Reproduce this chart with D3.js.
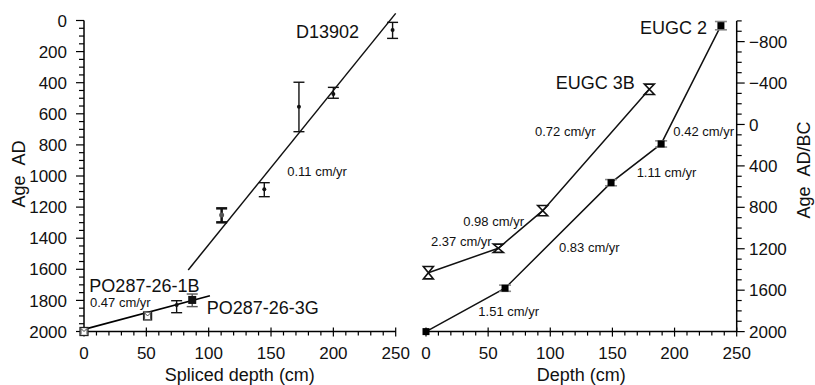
<!DOCTYPE html>
<html><head><meta charset="utf-8">
<script src="https://cdn.jsdelivr.net/npm/d3@7"></script>
<style>body{margin:0;background:#fff}svg{display:block}text{font-family:"Liberation Sans",Arial,sans-serif;fill:#111}</style>
</head><body><svg id="c" width="815" height="385"></svg>
<script>
// ---------- LEFT PANEL DATA ----------
const d139Depth = [110.4, 144.6, 172.4, 200, 247.5];
const d139Age   = [1251, 1086, 554, 473, 61];
const d139Lo    = [1208, 1043, 397, 430, 12];
const d139Hi    = [1298, 1133, 715, 500, 115];
const d139FitDepth = [83.6, 250];
const d139FitAge   = [1604, -46];
const poFitDepth = [0, 101];
const poFitAge   = [1986, 1770];
const poOpenDepth = [0, 51];
const poOpenAge   = [2000, 1900];
const po1bDepth = [74.3], po1bAge = [1830], po1bLo = [1802], po1bHi = [1879];
const po3gDepth = [86.8], po3gAge = [1797], po3gLo = [1759], po3gHi = [1840];
const leftYTicks = [0,200,400,600,800,1000,1200,1400,1600,1800,2000];
const xTicks = [0,50,100,150,200,250];
const leftLabels = [
  {t:"D13902", d:170, a:112, big:true},
  {t:"0.11 cm/yr", d:163, a:1000},
  {t:"PO287-26-1B", d:4.3, a:1743, big:true},
  {t:"0.47 cm/yr", d:4.8, a:1842},
  {t:"PO287-26-3G", d:98.4, a:1887, big:true}
];
// ---------- RIGHT PANEL DATA ----------
const eugc2Depth = [0, 63.6, 148.9, 189.2, 237.3];
const eugc2Age   = [2000, 1581, 562, 188, -954];
const eugc2Err   = [0, 30, 30, 30, 40];
const eugc3bDepth = [1.9, 58.2, 93.9, 179.7];
const eugc3bAge   = [1431, 1195, 832, -340];
const eugc3bErr   = [60, 40, 50, 50];
const rightYTicks = [-800,-400,0,400,800,1200,1600,2000];
const rightLabels = [
  {t:"EUGC 2", d:172.2, a:-869, big:true},
  {t:"EUGC 3B", d:104.4, a:-338, big:true},
  {t:"0.72 cm/yr", d:87.7, a:111},
  {t:"0.42 cm/yr", d:199, a:111},
  {t:"1.11 cm/yr", d:169.5, a:512},
  {t:"0.98 cm/yr", d:30, a:980},
  {t:"2.37 cm/yr", d:4, a:1178},
  {t:"0.83 cm/yr", d:107, a:1236},
  {t:"1.51 cm/yr", d:42.1, a:1849}
];

const svg = d3.select("#c");
const xL = d3.scaleLinear().domain([0,250]).range([84,395.7]);
const yL = d3.scaleLinear().domain([0,2000]).range([20.5,331.5]);
const xR = d3.scaleLinear().domain([0,250]).range([426,736.7]);
const yR = d3.scaleLinear().domain([-1000,2000]).range([20.9,331.6]);
const line = (xs, ys, X, Y) => d3.line()(xs.map((d,i)=>[X(d), Y(ys[i])]));

function xAxis(X, y0){
  const g = svg.append("g");
  g.append("line").attr("x1",X.range()[0]).attr("x2",X.range()[1]).attr("y1",y0).attr("y2",y0).attr("stroke","#000").attr("stroke-width",1.5);
  d3.range(0,251,10).forEach(v=>{
    const major = v%50===0;
    g.append("line").attr("x1",X(v)).attr("x2",X(v)).attr("y1",major?y0-4:y0).attr("y2",y0+(major?5:4)).attr("stroke","#000").attr("stroke-width",1.2);
  });
  g.selectAll("text").data(xTicks).join("text").attr("x",d=>X(d)).attr("y",y0+27)
    .attr("text-anchor","middle").attr("font-size",17).text(d=>d);
}
// Left y axis
(function(){
  const g = svg.append("g");
  g.append("line").attr("x1",84).attr("x2",84).attr("y1",yL(0)).attr("y2",yL(2000)).attr("stroke","#000").attr("stroke-width",1.5);
  d3.range(0,2001,50).forEach(v=>{
    const major = v%200===0;
    g.append("line").attr("x1",84-(major?8:5)).attr("x2",84).attr("y1",yL(v)).attr("y2",yL(v)).attr("stroke","#000").attr("stroke-width",1.2);
  });
  g.selectAll("text").data(leftYTicks).join("text").attr("x",67).attr("y",d=>yL(d)).attr("dy","0.36em")
    .attr("text-anchor","end").attr("font-size",17).text(d=>d);
})();
// Right y axis
(function(){
  const g = svg.append("g");
  const x0 = 736.7;
  g.append("line").attr("x1",x0).attr("x2",x0).attr("y1",yR(-1000)).attr("y2",yR(2000)).attr("stroke","#000").attr("stroke-width",1.5);
  d3.range(-1000,2001,100).forEach(v=>{
    const major = (v+800)%400===0 && v>=-800;
    g.append("line").attr("x1",x0).attr("x2",x0+(major?8:5)).attr("y1",yR(v)).attr("y2",yR(v)).attr("stroke","#000").attr("stroke-width",1.2);
  });
  g.selectAll("text").data(rightYTicks).join("text").attr("x",749).attr("y",d=>yR(d)).attr("dy","0.36em")
    .attr("text-anchor","start").attr("font-size",17).text(d=>d<0?"\u2212"+Math.abs(d):d);
})();
xAxis(xL, 331.5);
xAxis(xR, 331.6);

// axis titles
svg.append("text").attr("x",(84+395.7)/2).attr("y",381).attr("text-anchor","middle").attr("font-size",18).text("Spliced depth (cm)");
svg.append("text").attr("x",(426+736.7)/2).attr("y",381).attr("text-anchor","middle").attr("font-size",18).text("Depth (cm)");
svg.append("text").attr("transform","translate(25,174) rotate(-90)").attr("text-anchor","middle").attr("font-size",18).text("Age\u00A0\u00A0AD");
svg.append("text").attr("transform","translate(810,170) rotate(-90)").attr("text-anchor","middle").attr("font-size",18).text("Age\u00A0\u00A0AD/BC");

// ---------- LEFT MARKS ----------
const lw = 1.5;
svg.append("path").attr("d",line(d139FitDepth,d139FitAge,xL,yL)).attr("stroke","#111").attr("stroke-width",lw).attr("fill","none");
svg.append("path").attr("d",line(poFitDepth,poFitAge,xL,yL)).attr("stroke","#000").attr("stroke-width",1.7).attr("fill","none");
function errBar(X,Y,d,lo,hi,w,col,sw){
  const g = svg.append("g").attr("stroke",col).attr("stroke-width",sw||1.5);
  g.append("line").attr("x1",X(d)).attr("x2",X(d)).attr("y1",Y(lo)).attr("y2",Y(hi));
  g.append("line").attr("x1",X(d)-w).attr("x2",X(d)+w).attr("y1",Y(lo)).attr("y2",Y(lo));
  g.append("line").attr("x1",X(d)-w).attr("x2",X(d)+w).attr("y1",Y(hi)).attr("y2",Y(hi));
}
d139Depth.forEach((d,i)=>{
  errBar(xL,yL,d,d139Lo[i],d139Hi[i],5.5,"#111", i===0?2.5:1.4);
  svg.append("circle").attr("cx",xL(d)).attr("cy",yL(d139Age[i])).attr("r",i===0?2.5:2).attr("fill", i===0?"#555":"#111");
});
po1bDepth.forEach((d,i)=>{
  errBar(xL,yL,d,po1bLo[i],po1bHi[i],5.5,"#111",1.4);
  svg.append("circle").attr("cx",xL(d)).attr("cy",yL(po1bAge[i])).attr("r",2).attr("fill","#111");
});
po3gDepth.forEach((d,i)=>{
  errBar(xL,yL,d,po3gLo[i],po3gHi[i],5.5,"#555",1.4);
  svg.append("rect").attr("x",xL(d)-4).attr("y",yL(po3gAge[i])-4).attr("width",8).attr("height",8).attr("fill","#111");
});
poOpenDepth.forEach((d,i)=>{
  const cx=xL(d), cy=yL(poOpenAge[i]);
  svg.append("rect").attr("x",cx-4).attr("y",cy-4).attr("width",8).attr("height",8).attr("fill","#fff").attr("stroke","#222").attr("stroke-width",1.3);
  svg.append("path").attr("d",`M${cx-3},${cy+3}L${cx-3},${cy-3}L${cx},${cy}L${cx+3},${cy-3}L${cx+3},${cy+3}`).attr("fill","none").attr("stroke","#444").attr("stroke-width",1);
});

// ---------- RIGHT MARKS ----------
svg.append("path").attr("d",line(eugc2Depth,eugc2Age,xR,yR)).attr("stroke","#111").attr("stroke-width",lw).attr("fill","none");
svg.append("path").attr("d",line(eugc3bDepth,eugc3bAge,xR,yR)).attr("stroke","#111").attr("stroke-width",lw).attr("fill","none");
eugc2Depth.forEach((d,i)=>{
  const cx=xR(d), cy=yR(eugc2Age[i]);
  if(eugc2Err[i]>0) errBar(xR,yR,d,eugc2Age[i]-eugc2Err[i],eugc2Age[i]+eugc2Err[i],6,"#888",1.6);
  svg.append("rect").attr("x",cx-3.5).attr("y",cy-3.5).attr("width",7).attr("height",7).attr("fill","#000");
});
eugc3bDepth.forEach((d,i)=>{
  const cx=xR(d), t=yR(eugc3bAge[i]-eugc3bErr[i]), b=yR(eugc3bAge[i]+eugc3bErr[i]);
  svg.append("path").attr("d",`M${cx-5},${t}H${cx+5}L${cx-5},${b}H${cx+5}Z`).attr("fill","none").attr("stroke","#111").attr("stroke-width",1.6);
});

// ---------- LABELS ----------
function labels(arr,X,Y){
  svg.append("g").selectAll("text").data(arr).join("text")
    .attr("x",d=>X(d.d)).attr("y",d=>Y(d.a)).attr("font-size",d=>d.big?18:13).text(d=>d.t);
}
labels(leftLabels,xL,yL);
labels(rightLabels,xR,yR);
</script></body></html>
